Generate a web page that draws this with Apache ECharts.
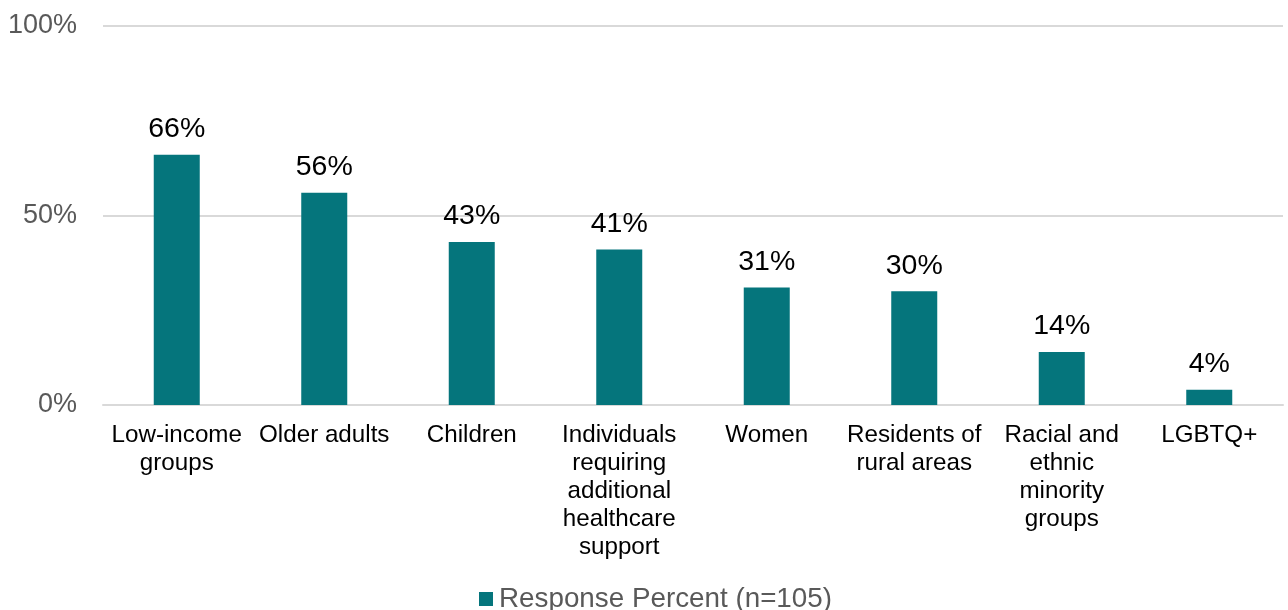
<!DOCTYPE html>
<html><head><meta charset="utf-8">
<script src="https://cdn.jsdelivr.net/npm/echarts@6/dist/echarts.min.js"></script>
<style>html,body{margin:0;padding:0;background:#fff}#c{width:1288px;height:610px}</style>
</head><body><div id="c"></div>
<script>
const categories = ["Low-income\ngroups","Older adults","Children","Individuals\nrequiring\nadditional\nhealthcare\nsupport","Women","Residents of\nrural areas","Racial and\nethnic\nminority\ngroups","LGBTQ+"];
const values = [66, 56, 43, 41, 31, 30, 14, 4];
const yTicks = [0, 50, 100];
const seriesName = "Response Percent (n=105)";
const FONT = '"Liberation Sans", Arial, sans-serif';
const chart = echarts.init(document.getElementById('c'), null, {renderer:'canvas'});
chart.setOption({
  animation:false,
  textStyle:{fontFamily:FONT},
  grid:{left:103,right:5,top:26,bottom:205,containLabel:false},
  legend:{data:[seriesName],left:474,top:580,itemWidth:14,itemHeight:14,itemGap:10,icon:'rect',
    textStyle:{fontFamily:FONT,fontSize:27.8,color:'#595959',padding:[0,0,0,1]}},
  xAxis:{type:'category',data:categories,
    axisLine:{lineStyle:{color:'#d9d9d9',width:2}},axisTick:{show:false},
    axisLabel:{interval:0,fontFamily:FONT,fontSize:24.2,color:'#000',lineHeight:28,margin:16}},
  yAxis:{type:'value',min:yTicks[0],max:yTicks[yTicks.length-1],interval:50,
    axisLine:{show:false},axisTick:{show:false},
    splitLine:{lineStyle:{color:'#d9d9d9',width:2}},
    axisLabel:{formatter:v=>v+'%',fontFamily:FONT,fontSize:27,color:'#595959',margin:26,padding:[5,0,0,0]}},
  series:[{name:seriesName,type:'bar',data:values,barWidth:46,
    itemStyle:{color:'#05757C'},
    label:{show:true,position:'top',distance:11,formatter:p=>p.value+'%',fontFamily:FONT,fontSize:28.5,color:'#000'}}]
});
</script></body></html>
